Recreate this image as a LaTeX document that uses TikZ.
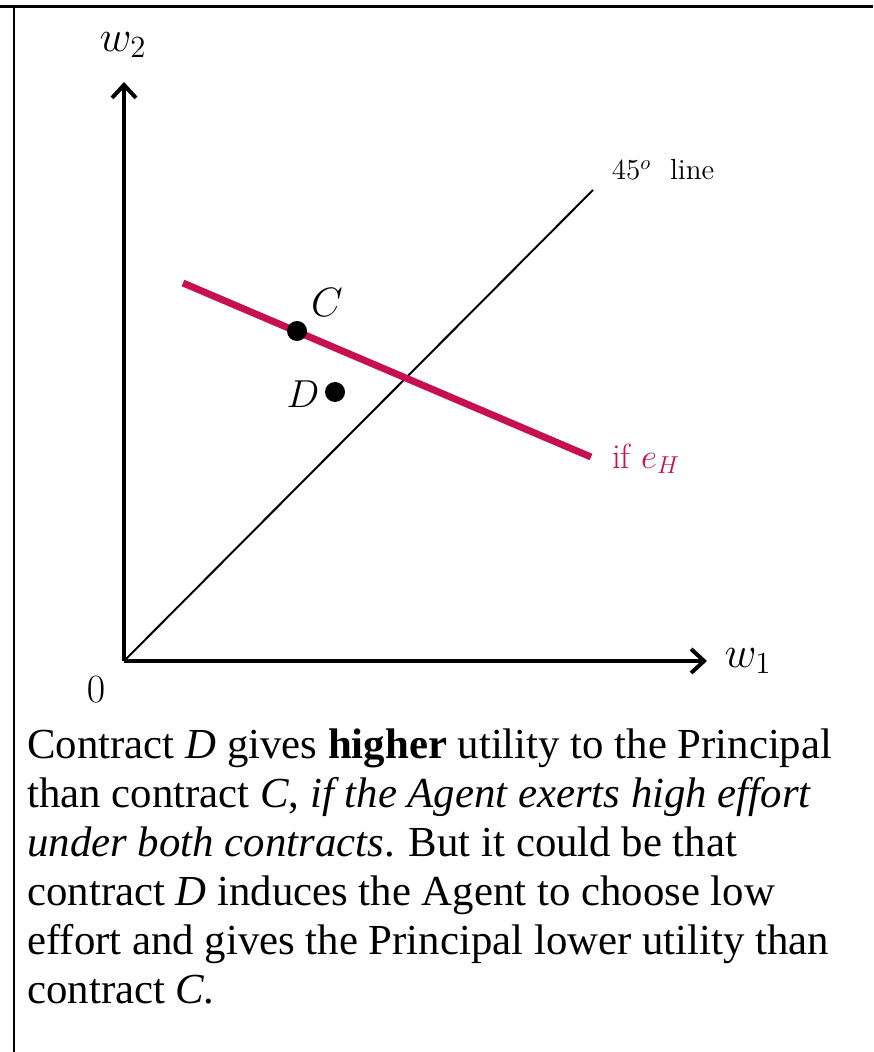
\RequirePackage{fix-cm}
\documentclass[tikz,border=0pt]{standalone}
\usepackage{fontspec}
\newfontfamily\tnr{Liberation Serif}
\usetikzlibrary{arrows.meta}
\definecolor{curvered}{RGB}{198,16,80}
\tikzset{
  axis/.style={line width=2pt,-{Straight Barb[length=6.5pt,width=12pt,line width=2pt]}},
  diag/.style={line width=1pt},
  budget/.style={line width=3.5pt,curvered},
  dot/.style={circle,fill=black,inner sep=0pt,minimum size=10pt},
  lbl/.style={inner sep=0pt},
  axlbl/.style={inner sep=0pt,font=\fontsize{22}{26}\selectfont},
  capline/.style={anchor=base west,inner sep=0pt,font=\tnr\fontsize{21.4}{24.5}\selectfont},
  frame/.style={line width=1.2pt}
}
\begin{document}
\begin{tikzpicture}[x=0.5pt,y=-0.5pt]
\useasboundingbox (0,0) rectangle (873,1052);
% frame
\coordinate (ftl) at (0,6.5);
\coordinate (ftr) at (873,6.5);
\coordinate (flt) at (14,5.5);
\coordinate (flb) at (14,1052);
\draw[frame] (ftl) -- (ftr);
\draw[frame] (flt) -- (flb);
% axes
\coordinate (O) at (124,661);
\coordinate (ytop) at (124,82);
\coordinate (xend) at (707,661);
\coordinate (d45) at (593,190);
\draw[diag] (O) -- (d45);
\draw[axis] (O) -- (ytop);
\draw[axis] (O) -- (xend);
% red line
\coordinate (r1) at (183,283);
\coordinate (r2) at (591,457);
\draw[budget] (r1) -- (r2);
% dots
\node[dot] (C) at (297,331) {};
\node[dot] (D) at (335,392) {};
% labels
\node[lbl,font=\fontsize{20.5}{24}\selectfont] (Clbl) at (327,302) {$C$};
\node[lbl,font=\fontsize{19.5}{23}\selectfont] (Dlbl) at (303,394) {$D$};
\node[axlbl] (w2) at (123,45) {$w_2$};
\node[axlbl] (w1) at (748,661) {$w_1$};
\node[lbl,font=\fontsize{20}{23}\selectfont] (zero) at (96,690) {$0$};
\node[lbl,font=\fontsize{14.5}{17}\selectfont] (l45) at (663,170) {$45^o$\ \ line};
\node[lbl,font=\fontsize{17.5}{20}\selectfont,text=curvered] (ifeh) at (646,459) {if $e_H$};
% caption
\node[capline] (c1) at (27,758) {Contract \textit{D} gives \textbf{higher} utility to the Principal};
\node[capline] (c2) at (27,807) {than contract \textit{C}, \textit{if the Agent exerts high effort}};
\node[capline] (c3) at (27,856) {\textit{under both contracts}. But it could be that};
\node[capline] (c4) at (27,905) {contract \textit{D} induces the Agent to choose low};
\node[capline] (c5) at (27,954) {effort and gives the Principal lower utility than};
\node[capline] (c6) at (27,1003) {contract \textit{C.}};
\end{tikzpicture}
\end{document}
